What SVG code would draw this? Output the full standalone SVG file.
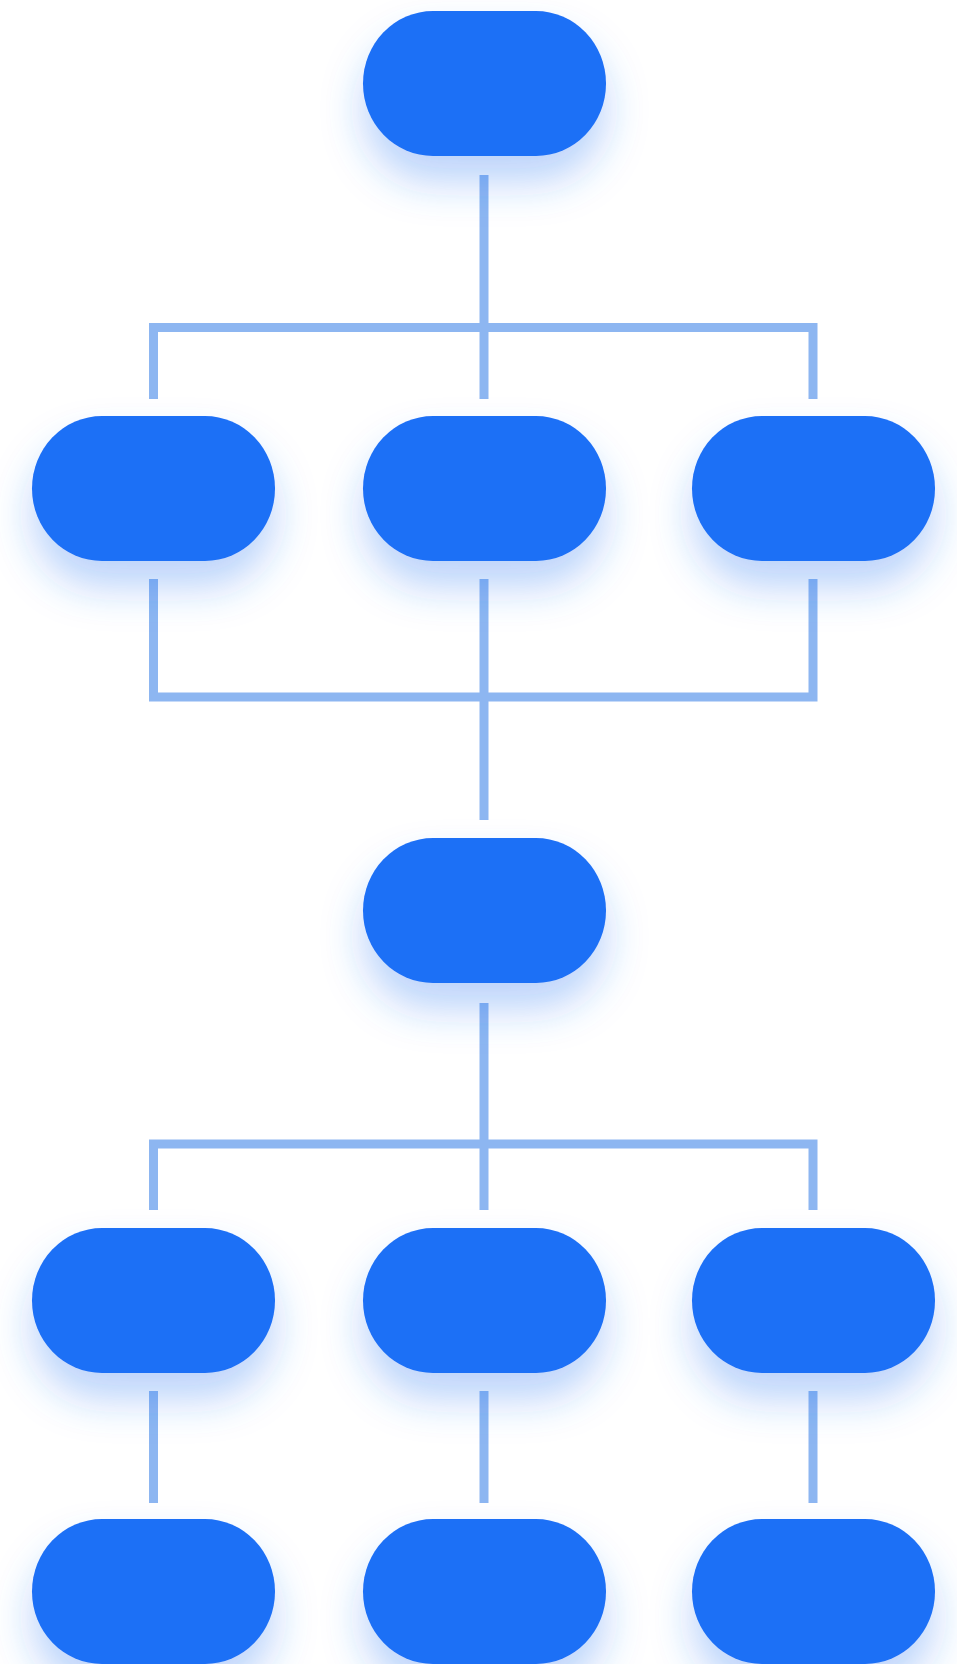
<svg xmlns="http://www.w3.org/2000/svg" width="957" height="1664" viewBox="0 0 957 1664">
<defs>
<filter id="glow" x="-40%" y="-40%" width="180%" height="210%">
<feDropShadow dx="0" dy="26" stdDeviation="20" flood-color="#2f78f2" flood-opacity="0.32"/>
</filter>
<style>
.node{fill:#1e6ff6;filter:url(#glow)}
.conn{fill:none;stroke:#8db6f1;stroke-width:9;stroke-linecap:butt;stroke-linejoin:miter}
</style>
</defs>
<rect width="957" height="1664" fill="#ffffff"/>
<g id="connectors">
<path class="conn" d="M484 175V399"/>
<path class="conn" d="M153.5 399V327.5H813V399"/>
<path class="conn" d="M153.5 579V697H813V579"/>
<path class="conn" d="M484 579V820"/>
<path class="conn" d="M484 1003V1210"/>
<path class="conn" d="M153.5 1210V1144H813V1210"/>
<path class="conn" d="M153.5 1391V1503"/>
<path class="conn" d="M484 1391V1503"/>
<path class="conn" d="M813 1391V1503"/>
</g>
<g id="n-top"><rect class="node" x="363" y="11" width="243" height="145" rx="70" ry="72.5"/></g>
<g id="n-l2-left"><rect class="node" x="32" y="416" width="243" height="145" rx="70" ry="72.5"/></g>
<g id="n-l2-mid"><rect class="node" x="363" y="416" width="243" height="145" rx="70" ry="72.5"/></g>
<g id="n-l2-right"><rect class="node" x="692" y="416" width="243" height="145" rx="70" ry="72.5"/></g>
<g id="n-mid"><rect class="node" x="363" y="838" width="243" height="145" rx="70" ry="72.5"/></g>
<g id="n-l4-left"><rect class="node" x="32" y="1228" width="243" height="145" rx="70" ry="72.5"/></g>
<g id="n-l4-mid"><rect class="node" x="363" y="1228" width="243" height="145" rx="70" ry="72.5"/></g>
<g id="n-l4-right"><rect class="node" x="692" y="1228" width="243" height="145" rx="70" ry="72.5"/></g>
<g id="n-l5-left"><rect class="node" x="32" y="1519" width="243" height="145" rx="70" ry="72.5"/></g>
<g id="n-l5-mid"><rect class="node" x="363" y="1519" width="243" height="145" rx="70" ry="72.5"/></g>
<g id="n-l5-right"><rect class="node" x="692" y="1519" width="243" height="145" rx="70" ry="72.5"/></g>
</svg>
